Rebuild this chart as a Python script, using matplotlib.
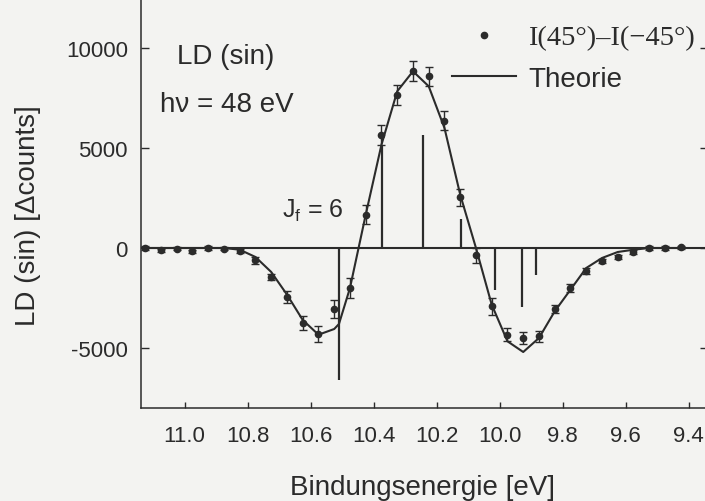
import matplotlib
matplotlib.use('Agg')
from matplotlib import pyplot as plt
from matplotlib.lines import Line2D

plt.rcParams['font.family'] = ['Liberation Sans', 'DejaVu Sans']
plt.rcParams['mathtext.fontset'] = 'custom'
plt.rcParams['mathtext.rm'] = 'Liberation Sans'
plt.rcParams['axes.unicode_minus'] = False

ink = '#2b2b2b'
paper = '#f3f3f1'

# Messpunkte I(45°)-I(-45°)
energie = [11.125, 11.075, 11.025, 10.975, 10.925, 10.875, 10.825, 10.775,
           10.725, 10.675, 10.625, 10.575, 10.525, 10.475, 10.425, 10.375,
           10.325, 10.275, 10.225, 10.175, 10.125, 10.075, 10.025, 9.975,
           9.925, 9.875, 9.825, 9.775, 9.725, 9.675, 9.625, 9.575, 9.525,
           9.475, 9.425]
ld = [0, -115, -35, -165, 0, -35, -165, -615, -1450, -2465, -3750, -4300,
      -3050, -2000, 1665, 5665, 7635, 8835, 8585, 6365, 2535, -365, -2915,
      -4335, -4500, -4415, -3035, -2000, -1165, -665, -450, -200, 0, 0, 35]
fehler = [80, 80, 80, 80, 80, 80, 100, 180, 160, 300, 330, 390, 430, 480,
          480, 500, 500, 500, 480, 480, 420, 360, 420, 330, 290, 275, 210,
          210, 150, 100, 100, 80, 80, 80, 80]

# Theorie (Kurve)
th_energie = [11.125, 10.875, 10.825, 10.775, 10.725, 10.675, 10.625, 10.575,
              10.525, 10.51, 10.475, 10.425, 10.375, 10.325, 10.275, 10.225,
              10.175, 10.125, 10.075, 10.025, 9.975, 9.925, 9.875, 9.825,
              9.775, 9.725, 9.675, 9.625, 9.575, 9.525, 9.425]
th_ld = [0, 0, -85, -450, -1200, -2330, -3600, -4335, -4050, -3800, -2000,
         1665, 5165, 7835, 8835, 8085, 6000, 2665, 0, -2835, -4665, -5200,
         -4500, -3165, -2085, -1000, -500, -200, -85, 0, 0]

# Theorie (Linien J_f = 6)
stick_energie = [10.51, 10.374, 10.243, 10.122, 10.014, 9.929, 9.886]
stick_ld = [-6585, 5165, 5635, 1465, -2085, -2965, -1335]

fig = plt.figure(figsize=(7.05, 5.02), dpi=100, facecolor=paper)
ax = fig.add_axes([140.5 / 705, 93 / 502, 567 / 705, 420 / 502])
ax.set_facecolor(paper)

ax.axhline(0, color=ink, lw=1.5, zorder=2)
ax.vlines(stick_energie, 0, stick_ld, color=ink, lw=1.6, zorder=2)
ax.plot(th_energie, th_ld, color=ink, lw=1.5, zorder=3)
ax.errorbar(energie, ld, yerr=fehler, fmt='o', ms=4.5, color=ink,
            ecolor=ink, elinewidth=1.0, capsize=3, capthick=1.0, zorder=4)

ax.set_xlim(11.14, 9.34)
ax.set_ylim(-8000, 13000)
ax.set_xticks([11.0, 10.8, 10.6, 10.4, 10.2, 10.0, 9.8, 9.6, 9.4])
ax.set_xticklabels(['11.0', '10.8', '10.6', '10.4', '10.2', '10.0', '9.8', '9.6', '9.4'])
ax.set_yticks([-5000, 0, 5000, 10000])
ax.tick_params(axis='both', direction='in', labelsize=16, colors=ink,
               width=1.0, right=True, top=True)
ax.tick_params(axis='y', length=6, pad=9)
ax.tick_params(axis='x', length=4.5, pad=12)
for s in ax.spines.values():
    s.set_color(ink)
    s.set_linewidth(1.1)

ax.set_xlabel('Bindungsenergie [eV]', fontsize=20, color=ink)
ax.xaxis.set_label_coords(0.497, -0.158)
ax.set_ylabel('LD (sin) [Δcounts]', fontsize=20, color=ink)
ax.yaxis.set_label_coords(-0.175, 0.46)

fig.text(177 / 705, 1 - 57 / 502, 'LD (sin)', fontsize=20, color=ink, va='center')
fig.text(160 / 705, 1 - 105 / 502, 'hν = 48 eV', fontsize=20, color=ink, va='center')
fig.text(282 / 705, 1 - 211 / 502, r'$\mathregular{J_f}$ = 6', fontsize=18,
         color=ink, va='center')

punkt = Line2D([], [], ls='none', marker='o', ms=4.5, color=ink)
linie = Line2D([], [], color=ink, lw=1.5)
leg = ax.legend([punkt, linie], ['I(45°)–I(−45°)', 'Theorie'], loc='upper left',
                bbox_to_anchor=(452 / 705, 1 - 26 / 502),
                bbox_transform=fig.transFigure, frameon=False, fontsize=20,
                borderpad=0, borderaxespad=0, handlelength=2.3,
                handletextpad=0.45, labelspacing=0.55)
leg.get_texts()[0].set_family('Liberation Serif')
leg.get_texts()[0].set_fontsize(20.5)
for t in leg.get_texts():
    t.set_color(ink)

fig.savefig('out.png', dpi=100, facecolor=paper)
